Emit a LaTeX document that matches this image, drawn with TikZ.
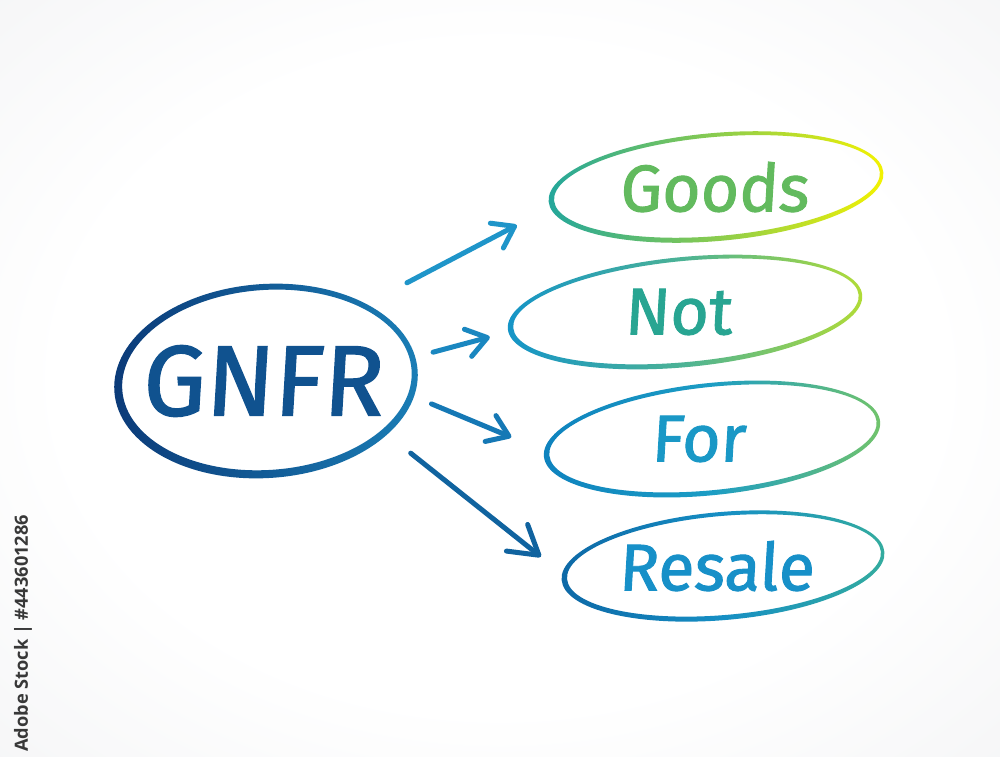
\documentclass[tikz,border=0pt]{standalone}
\usepackage{fontspec}
\setmainfont{Fira Sans}
\newfontfamily\handfont[FakeBold=1.4,FakeSlant=0.06]{Fira Sans}
\newfontfamily\sidefont{Open Sans}
\usetikzlibrary{shapes.geometric,arrows.meta}
\definecolor{bgg}{HTML}{DEDFE3}
\definecolor{gnfrL}{HTML}{0B3A78}
\definecolor{gnfrR}{HTML}{1A7EB6}
\definecolor{gnfrT}{HTML}{10528F}
\definecolor{goodsL}{HTML}{22A69C}
\definecolor{goodsM}{HTML}{8ACC4E}
\definecolor{goodsR}{HTML}{F4F200}
\definecolor{goodsT}{HTML}{62BA5E}
\definecolor{notL}{HTML}{1494C8}
\definecolor{notM}{HTML}{4DB394}
\definecolor{notR}{HTML}{B2DC36}
\definecolor{notT}{HTML}{28A592}
\definecolor{forL}{HTML}{0E82BE}
\definecolor{forM}{HTML}{1C9DC4}
\definecolor{forR}{HTML}{72C46A}
\definecolor{forT}{HTML}{1A98C6}
\definecolor{resL}{HTML}{0D68A6}
\definecolor{resM}{HTML}{168FC4}
\definecolor{resR}{HTML}{34AC9E}
\definecolor{resT}{HTML}{1790C8}
\definecolor{arA}{HTML}{1F95C9}
\definecolor{arB}{HTML}{1A87C0}
\definecolor{arC}{HTML}{1578B5}
\definecolor{arD}{HTML}{10639F}
\definecolor{sideGray}{HTML}{383838}
\pgfdeclareradialshading{bgshade}{\pgfpoint{0bp}{0bp}}{color(0bp)=(white); color(22bp)=(white); color(72bp)=(bgg)}
\begin{document}
\begin{tikzpicture}[x=1pt,y=-1pt,
  hub/.style={ellipse, inner sep=0pt, outer sep=0pt},
  word/.style={font=\handfont\fontsize{66}{70}\selectfont},
  link/.style={line width=5pt, line cap=round,
    -{Straight Barb[length=20pt,width=28pt,line cap=round,line join=round]}},
  biglink/.style={line width=5pt, line cap=round,
    -{Straight Barb[length=28pt,width=34pt,line cap=round,line join=round]}},
]
\useasboundingbox (0,0) rectangle (1000,756);
\shade[shading=bgshade] (0,0) rectangle (1000,756);

% nodes
\node[hub, minimum width=300pt, minimum height=190pt, text=gnfrT,
      font=\handfont\fontsize{100}{104}\selectfont] (gnfr) at (266,381) {\makebox[0pt]{\hspace{-8pt}GNFR}};
\node[hub, word, minimum width=334pt, minimum height=104pt, text=goodsT] (goods) at (716,187) {\makebox[0pt]{\hspace{-4pt}Goods}};
\node[hub, word, minimum width=356pt, minimum height=106pt, text=notT] (not) at (685,312) {\makebox[0pt]{\hspace{-14pt}Not}};
\node[hub, word, minimum width=336pt, minimum height=110pt, text=forT] (for) at (712,439) {\makebox[0pt]{\hspace{-28pt}For}};
\node[hub, word, minimum width=324pt, minimum height=106pt, text=resT] (resale) at (723,566) {\makebox[0pt]{\hspace{-14pt}Resale}};

% rings
\begin{scope}[shift={(gnfr.center)}, rotate=4]
  \shade[left color=gnfrL, right color=gnfrR, even odd rule]
    (0,0) ellipse [x radius=152, y radius=97] (1,-1) ellipse [x radius=145, y radius=90];
\end{scope}
\begin{scope}[shift={(goods.center)}, rotate=5]
  \shade[left color=goodsL, right color=goodsR, middle color=goodsM, even odd rule]
    (0,0) ellipse [x radius=168, y radius=54] (1,-0.5) ellipse [x radius=163.5, y radius=49.5];
\end{scope}
\begin{scope}[shift={(not.center)}, rotate=5.5]
  \shade[left color=notL, right color=notR, middle color=notM, even odd rule]
    (0,0) ellipse [x radius=178, y radius=55] (1,-0.5) ellipse [x radius=173.5, y radius=50.5];
\end{scope}
\begin{scope}[shift={(for.center)}, rotate=6]
  \shade[left color=forL, right color=forR, middle color=forM, even odd rule]
    (0,0) ellipse [x radius=169, y radius=56] (1,-0.5) ellipse [x radius=164.5, y radius=51.5];
\end{scope}
\begin{scope}[shift={(resale.center)}, rotate=5]
  \shade[left color=resL, right color=resR, middle color=resM, even odd rule]
    (0,0) ellipse [x radius=162, y radius=54] (1,-0.5) ellipse [x radius=157.5, y radius=49.5];
\end{scope}

% connectors
\draw[link, draw=arA, shorten <=52.5pt, shorten >=46.3pt] (gnfr.38.1) -- (goods.186.5);
\draw[link, draw=arB, shorten <=22.3pt, shorten >=28.3pt] (gnfr.9.3) -- (not.186.7);
\draw[link, draw=arC, shorten <=19pt, shorten >=41.6pt] (gnfr.354.8) -- (for.185.2);
\draw[biglink, draw=arD, shorten <=28.1pt, shorten >=28.3pt] (gnfr.336.2) -- (resale.183.1);

% side label
\node[rotate=90, anchor=west, inner sep=0pt, text=sideGray,
      font=\sidefont\bfseries\fontsize{18.2}{18.2}\selectfont] (stockid) at (23,752) {Adobe Stock | \#443601286};
\end{tikzpicture}
\end{document}
